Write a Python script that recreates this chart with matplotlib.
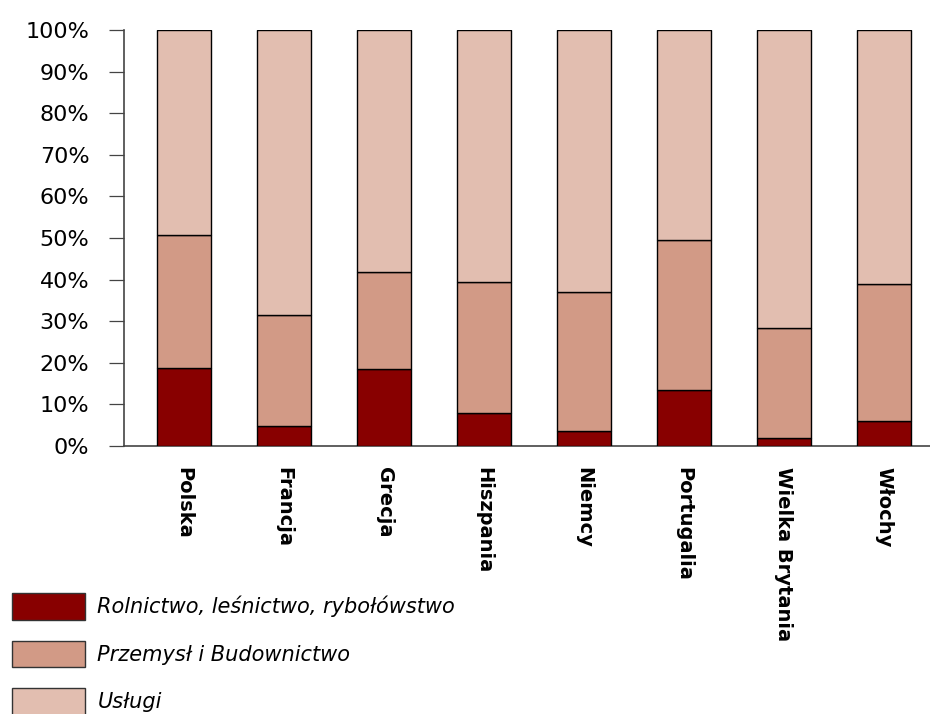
import numpy as np
import matplotlib
matplotlib.use('Agg')
import matplotlib.pyplot as plt
from matplotlib.patches import Patch

# Data (share of employment, %)
countries = ['Polska', 'Francja', 'Grecja', 'Hiszpania', 'Niemcy',
             'Portugalia', 'Wielka Brytania', 'Włochy']
rolnictwo = [18.8, 4.8, 18.5, 7.9, 3.6, 13.3, 1.9, 6.0]
przemysl = [31.9, 26.7, 23.2, 31.4, 33.5, 36.1, 26.5, 32.9]
uslugi = [49.3, 68.5, 58.3, 60.7, 62.9, 50.6, 71.6, 61.1]

series_names = ['Rolnictwo, leśnictwo, rybołówstwo',
                'Przemysł i Budownictwo', 'Usługi']
colors = ['#880000', '#D29A86', '#E2BEB0']

fig = plt.figure(figsize=(9.3, 7.14), dpi=100)
ax = fig.add_axes([124 / 930, 1 - 445.7 / 714, 1 - 124 / 930, (445.7 - 30.3) / 714])

x = np.arange(len(countries))
bottom = np.zeros(len(countries))
for vals, col in zip([rolnictwo, przemysl, uslugi], colors):
    ax.bar(x, vals, width=0.54, bottom=bottom, color=col,
           edgecolor='black', linewidth=1.0, zorder=3)
    bottom += np.array(vals)

ax.set_ylim(0, 100)
ax.set_xlim(-0.6, 7.46)
ax.set_yticks(np.arange(0, 101, 10))
ax.set_yticklabels([f'{v}%' for v in range(0, 101, 10)],
                   fontsize=16, family='DejaVu Sans')
ax.tick_params(axis='y', length=11, width=0.9, color='#444444', pad=14)
ax.set_xticks(x)
ax.set_xticklabels(countries, rotation=270, fontsize=14, fontweight='bold',
                   family='DejaVu Sans', va='top', ha='center')
ax.tick_params(axis='x', length=0, pad=15)

for side in ['top', 'right']:
    ax.spines[side].set_visible(False)
for side in ['left', 'bottom']:
    ax.spines[side].set_color('#444444')
    ax.spines[side].set_linewidth(1.2)

handles = [Patch(facecolor=c, edgecolor='#333333', linewidth=1.0) for c in colors]
fig.legend(handles, series_names, loc='upper left',
           bbox_to_anchor=(12 / 930, 1 - 593 / 714), frameon=False,
           borderpad=0, borderaxespad=0, handlelength=3.5, handleheight=1.6,
           handletextpad=0.6, labelspacing=1.0,
           prop={'size': 15, 'style': 'italic', 'family': 'DejaVu Sans'})

plt.savefig('out.png', dpi=100)
